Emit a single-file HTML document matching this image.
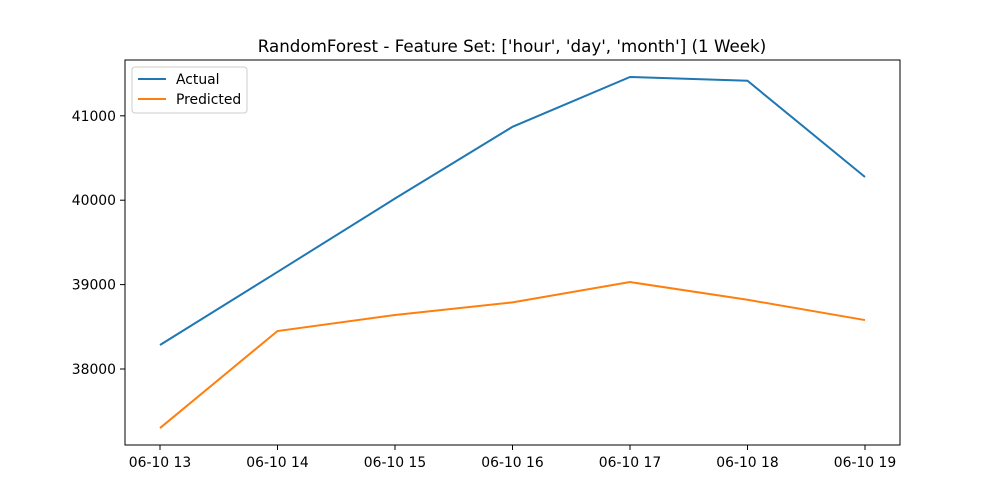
<!DOCTYPE html>
<html><head><meta charset="utf-8"><style>
body{margin:0;background:#fff;}
svg{display:block;font-family:"DejaVu Sans","Liberation Sans",sans-serif;}
</style></head><body>
<svg id="chart" width="1000" height="500">
<rect width="1000" height="500" fill="#fff"/>
<text x="512" y="52" text-anchor="middle" font-size="16.7">RandomForest - Feature Set: ['hour', 'day', 'month'] (1 Week)</text>
<g id="axes"></g>
<rect x="125" y="60" width="775" height="385" fill="none" stroke="#000" stroke-width="1"/>
<g>
<rect x="132" y="67" width="115" height="46" fill="#fff" stroke="#ccc" rx="3"/>
<line x1="138" y1="79" x2="166" y2="79" stroke="#1f77b4" stroke-width="2"/>
<text x="176" y="84" font-size="13.9">Actual</text>
<line x1="138" y1="99" x2="166" y2="99" stroke="#ff7f0e" stroke-width="2"/>
<text x="176" y="104" font-size="13.9">Predicted</text>
</g>
</svg>
<script>
const categories=["06-10 13","06-10 14","06-10 15","06-10 16","06-10 17","06-10 18","06-10 19"];
const actual=[38284,39150,40020,40870,41460,41415,40275];
const predicted=[37300,38450,38640,38790,39030,38820,38580];
const yTicks=[38000,39000,40000,41000];
const NS="http://www.w3.org/2000/svg";
const g=document.getElementById('axes');
function x(i){return 160+i*117.5;}
function y(v){return 369-(v-38000)*0.0844;}
function mk(t,a){const e=document.createElementNS(NS,t);for(const k in a)e.setAttribute(k,a[k]);g.appendChild(e);return e;}
categories.forEach((c,i)=>{
 const l=mk('line',{x1:x(i),x2:x(i),y1:445,y2:450,stroke:'#000'});
 
 
 const t=mk('text',{x:x(i),y:467,'text-anchor':'middle','font-size':13.9});
 t.textContent=c;
 
 
});
yTicks.forEach(v=>{
 const l=mk('line',{x1:120,x2:125,y1:y(v),y2:y(v),stroke:'#000'});
 
 
 const t=mk('text',{x:116,y:y(v)+5,'text-anchor':'end','font-size':13.9});
 t.textContent=v;
 
 
});
function line(d,col,name){
 const p=mk('polyline',{points:d.map((v,i)=>x(i)+','+y(v)).join(' '),fill:'none',stroke:col,'stroke-width':2});
 
 
}
line(actual,'#1f77b4','actual-line');
line(predicted,'#ff7f0e','predicted-line');
</script>
</body></html>
